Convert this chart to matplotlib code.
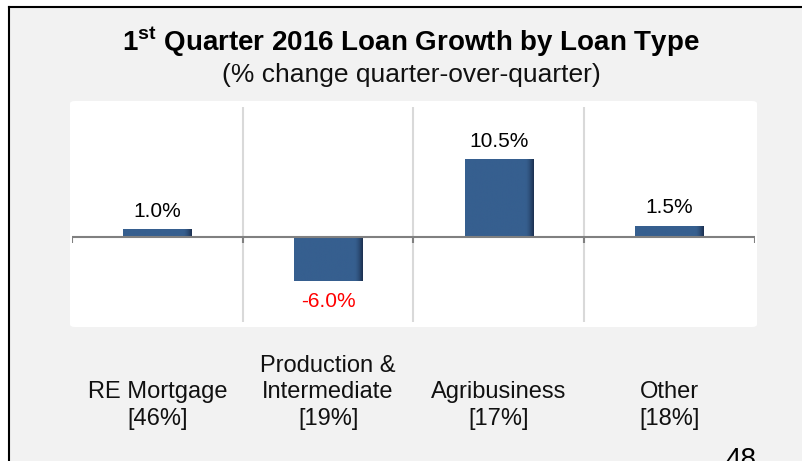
import matplotlib
matplotlib.use('Agg')
import matplotlib.pyplot as plt
from matplotlib.patches import FancyBboxPatch, Rectangle
from matplotlib.lines import Line2D
import matplotlib.colors as mcolors
import numpy as np

plt.rcParams.update({
    'font.family': ['Liberation Sans', 'DejaVu Sans'],
    'mathtext.fontset': 'custom',
    'mathtext.rm': 'Liberation Sans',
    'mathtext.bf': 'Liberation Sans:bold',
})

# ── Datos ─────────────────────────────────────────────────────────────────────
CATEGORIES = ["RE Mortgage\n[46%]", "Production &\nIntermediate\n[19%]",
              "Agribusiness\n[17%]", "Other\n[18%]"]
GROWTH = [1.0, -6.0, 10.5, 1.5]
LABELS = ["1.0%", "-6.0%", "10.5%", "1.5%"]

BAR_COLOR = "#365F8F"
DARK_EDGE = "#1C3050"
BG_GRAY = "#F2F2F2"

W, H = 803, 461
fig = plt.figure(figsize=(W / 100, H / 100), dpi=100)
fig.patch.set_facecolor("white")

# Fondo gris de la diapositiva con borde negro arriba / izquierda
fig.add_artist(Rectangle((9 / W, 0), 1 - 9 / W, 1 - 7 / H,
                         transform=fig.transFigure, facecolor=BG_GRAY,
                         edgecolor="none", zorder=0))
fig.add_artist(Line2D([9 / W, 1], [1 - 7 / H, 1 - 7 / H],
                      transform=fig.transFigure, color="black", lw=1.5))
fig.add_artist(Line2D([9 / W, 9 / W], [0, 1 - 7 / H],
                      transform=fig.transFigure, color="black", lw=1.5))

# Área blanca del gráfico
fig.add_artist(FancyBboxPatch((70 / W, 1 - 327 / H), 687 / W, 226 / H,
                              boxstyle="round,pad=0,rounding_size=0.006",
                              transform=fig.transFigure, facecolor="white",
                              edgecolor="none", zorder=0.5))

# Títulos
fig.text(411 / W, 1 - 42 / H,
         r"1$^{\mathbf{st}}$ Quarter 2016 Loan Growth by Loan Type",
         ha="center", va="center", fontsize=20, fontweight="bold")
fig.text(411 / W, 1 - 75 / H, "(% change quarter-over-quarter)",
         ha="center", va="center", fontsize=19, color="#111111")

ax = fig.add_axes([72 / W, 1 - 322 / H, 683 / W, 215 / H])
ax.set_zorder(2)
ax.set_facecolor("none")
for s in ax.spines.values():
    s.set_visible(False)
ax.set_xticks([])
ax.set_yticks([])

x = np.arange(len(GROWTH)) + 0.5
bars = ax.bar(x, GROWTH, width=0.4, color=BAR_COLOR, zorder=3)

# Sombreado del borde derecho de cada barra
cmap = mcolors.LinearSegmentedColormap.from_list("shade", [BAR_COLOR, DARK_EDGE])
shade = np.clip((np.linspace(0, 1, 200) - 0.88) / 0.12, 0, 1) ** 1.5
for b in bars:
    x0, y0 = b.get_x(), b.get_y()
    x1, y1 = x0 + b.get_width(), y0 + b.get_height()
    im = ax.imshow(shade[None, :], cmap=cmap,
                   extent=(x0, x1, min(y0, y1), max(y0, y1)),
                   aspect="auto", zorder=3.5, vmin=0, vmax=1)
    im.set_clip_path(b)
ax.set_xlim(0, len(GROWTH))
ax.set_ylim(-11.5, 17.5)

# Separadores de categoría y eje cero
for b in range(1, len(GROWTH)):
    ax.axvline(b, color="#D9D9D9", lw=1.5, zorder=1)
ax.axhline(0, color="#808080", lw=1.5, zorder=4)
ax.vlines(np.arange(len(GROWTH) + 1), -0.9, 0, color="#808080", lw=1.5,
          zorder=4)

# Etiquetas de valor
for xi, v, lab in zip(x, GROWTH, LABELS):
    ax.annotate(lab, (xi, v), xytext=(0, 6 if v >= 0 else -8),
                textcoords="offset points", ha="center",
                va="bottom" if v >= 0 else "top", fontsize=15,
                color="black" if v >= 0 else "red")

# Etiquetas de categoría
for xi, cat in zip(x, CATEGORIES):
    ax.text(xi, -0.5, cat, transform=ax.get_xaxis_transform(),
            ha="center", va="bottom", fontsize=17, linespacing=1.25,
            color="#111111")

# Número de página
fig.text(741 / W, 1 - 447 / H, "48", ha="center", va="top", fontsize=20)

fig.savefig("out.png", dpi=100)
